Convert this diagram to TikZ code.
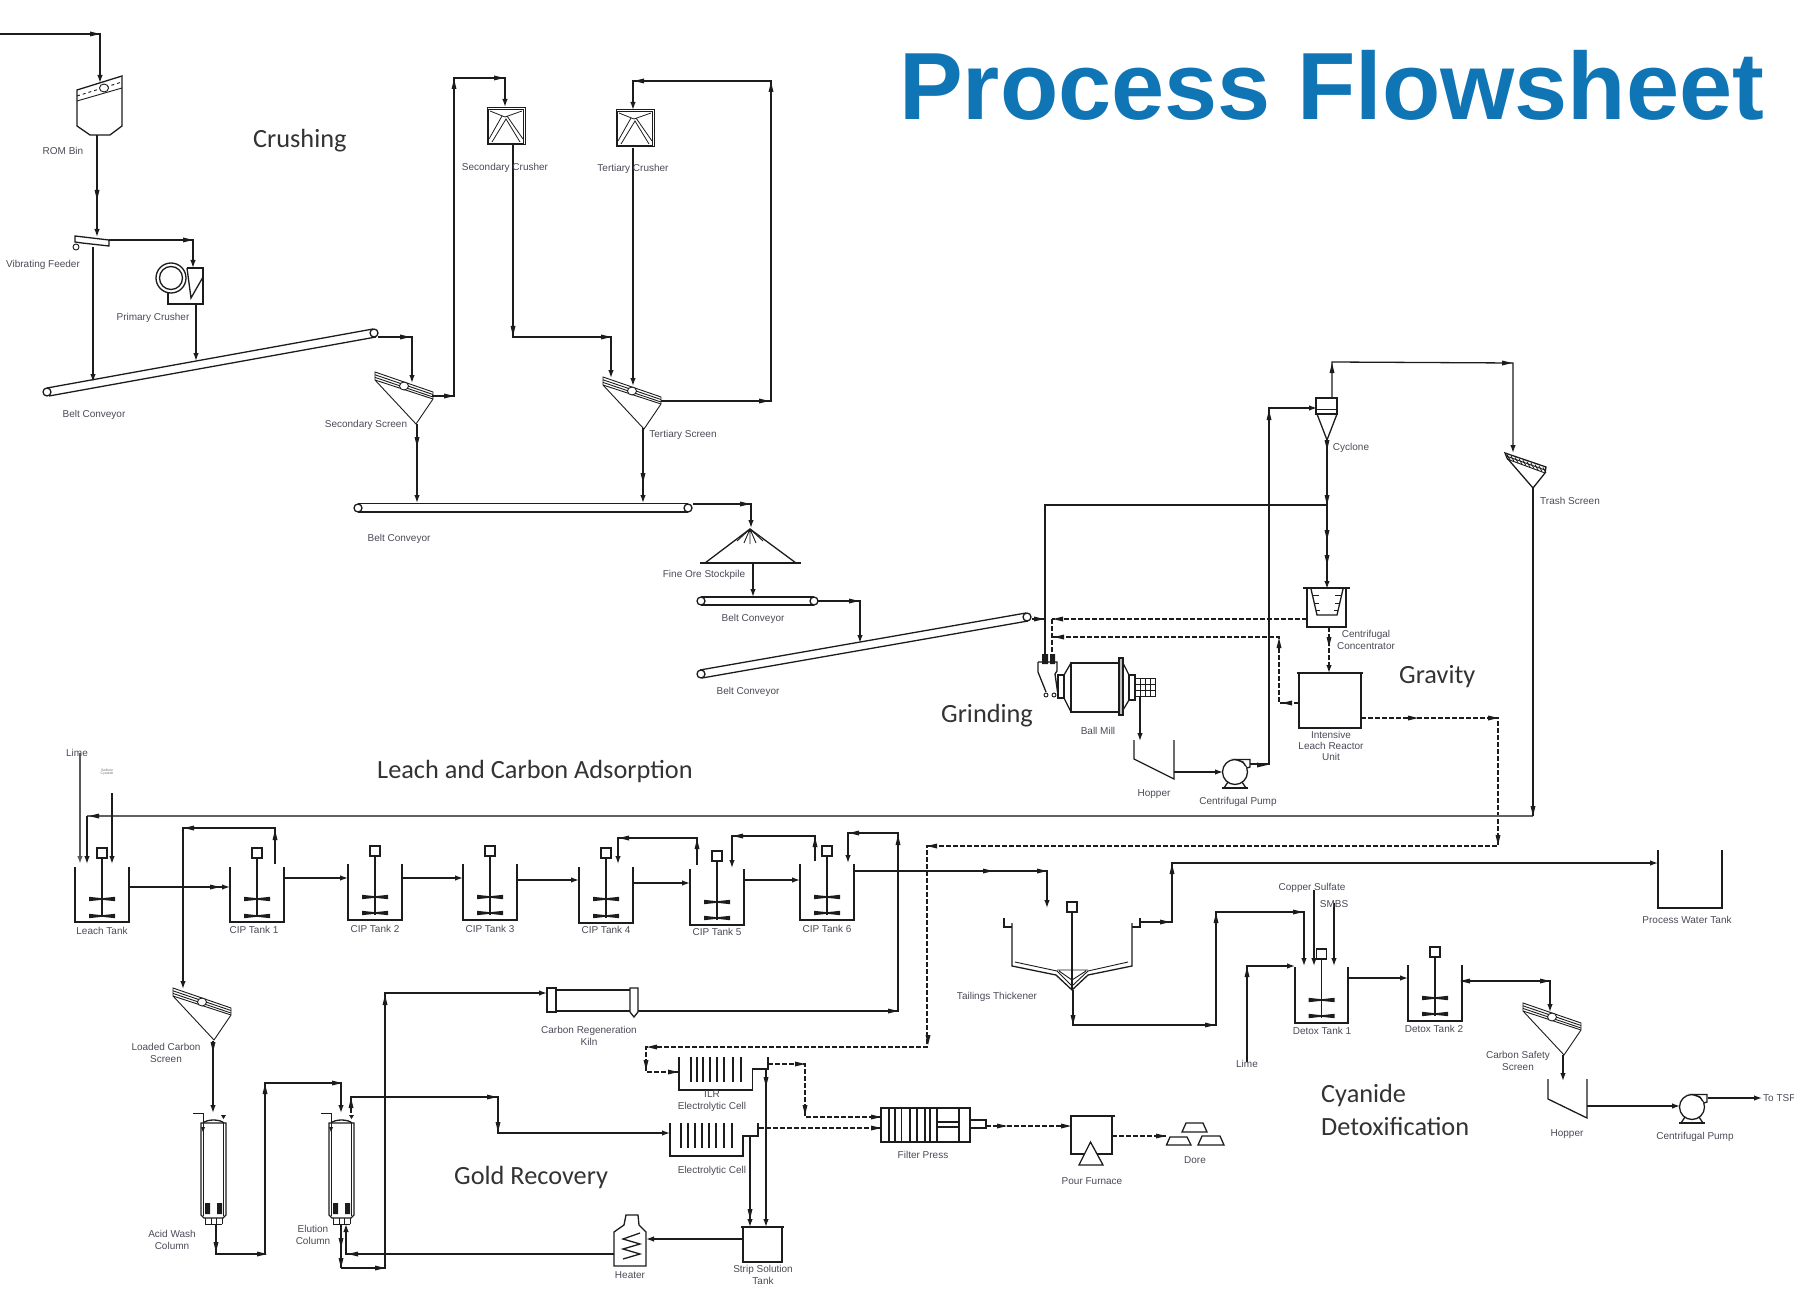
\documentclass[tikz,border=0pt]{standalone}
\usepackage{fontspec}
\setmainfont{Liberation Sans}
\newfontfamily\hdfont{Carlito}
\usetikzlibrary{arrows.meta}
\definecolor{ttl}{HTML}{0F75B5}
\definecolor{ink}{HTML}{1C1C1C}
\definecolor{lab}{HTML}{4A4A58}
\tikzset{
 pipe/.style={draw=ink,line width=1.3pt,line join=miter},
 wide/.style={draw=black!62,line width=2pt},
 arrowed/.style={-{Latex[length=8pt,width=5.5pt]}},
 dashpipe/.style={pipe,dash pattern=on 5pt off 2pt},
 eq/.style={draw=ink,line width=1.3pt,line join=miter},
 thin eq/.style={draw=ink,line width=.9pt},
 lbl/.style={font=\fontsize{10}{11.3}\selectfont,text=lab,align=center,inner sep=0pt,yshift=-1pt},
 sect/.style={font=\hdfont\fontsize{26.3}{31}\selectfont,text=black!80,align=left,inner sep=0pt,anchor=west,yshift=-2pt},
 motor/.style={draw=ink,line width=1.3pt,fill=white,minimum size=10pt,inner sep=0pt,rectangle}
}
\newcommand{\tipR}[2]{\fill[ink,shift={(#1,#2)}] (-5,-2.5) -- (5,0) -- (-5,2.5) -- cycle;}
\newcommand{\tipL}[2]{\fill[ink,shift={(#1,#2)}] (5,-2.5) -- (-5,0) -- (5,2.5) -- cycle;}
\newcommand{\tipD}[2]{\fill[ink,shift={(#1,#2)}] (-2.5,-5) -- (0,5) -- (2.5,-5) -- cycle;}
\newcommand{\tipU}[2]{\fill[ink,shift={(#1,#2)}] (-2.5,5) -- (0,-5) -- (2.5,5) -- cycle;}
\newcommand{\lab}[4]{\node[lbl] (#1) at (#2,#3) {#4};}
\newcommand{\sectn}[4]{\node[sect] (#1) at (#2,#3) {#4};}
\newcommand{\blade}[2]{\fill[ink,shift={(#1,#2)}] (-13,-2.2) -- (0,-.8) -- (13,-2.2) -- (13,2.2) -- (0,.8) -- (-13,2.2) -- cycle;}
% name, xL, xR, top, bottom, box y, blade 1, blade 2
\newcommand{\agtank}[8]{%
 \pgfmathsetmacro{\tcx}{(#2+#3)/2}%
 \draw[eq] (#2,#4) -- (#2,#5) -- (#3,#5) -- (#3,#4);
 \node[motor] (#1) at (\tcx,#6) {};
 \draw[eq] (#1.south) -- (\tcx,#5-5);
 \blade{\tcx}{#7}\blade{\tcx}{#8}}
% screen: top-left corner
\newcommand{\screen}[2]{%
 \begin{scope}[shift={(#1,#2)}]
  \draw[thin eq] (0,0) -- (58,20) -- (58,27) -- (41,52) -- (0,8) -- cycle;
  \draw[thin eq] (0,8) -- (58,27);
  \draw[thin eq] (0,2.8) -- (58,22.5) (0,5.4) -- (58,25);
  \draw[thin eq,fill=white] (29,14) ellipse (4.5 and 4);
 \end{scope}}
\newcommand{\crushbox}[2]{%
 \begin{scope}[shift={(#1,#2)}]
  \draw[draw=ink,line width=1pt] (0,0) rectangle (38,37);
  \draw[draw=ink,line width=.7pt] (1.6,1.6) rectangle (36.4,35.4);
  \draw[draw=ink,line width=.8pt] (3,3) -- (18,9) -- (35,3);
  \draw[draw=ink,line width=.8pt] (15,8) -- (2,31) (20,8) -- (36,31) (5,34) -- (19,11) -- (33,34);
 \end{scope}}
\newcommand{\pumpshape}[2]{%
 \begin{scope}[shift={(#1,#2)}]
  \draw[eq] (-7,10) -- (-11,16) (7,10) -- (11,16);
  \draw[eq] (-13,16) -- (13,16);
  \draw[eq,fill=white] (0,0) circle (12.5);
  \draw[eq,fill=white] (0,-12.5) -- (15,-12.5) -- (15,-5) -- (12,-4) -- (8,-10) -- cycle;
  \fill[white] (1,-11.5) -- (11,-5) -- (11,-2) -- (0,-8) -- cycle;
 \end{scope}}
\newcommand{\columnshape}[1]{%
 \begin{scope}[shift={(#1,1123)}]
  \draw[eq] (0,0) -- (0,92) -- (3,95) -- (22,95) -- (25,92) -- (25,0) -- cycle;
  \draw[thin eq] (2.5,0) -- (2.5,93) (22.5,0) -- (22.5,93);
  \draw[eq] (2,0) .. controls (6,-4) and (19,-4) .. (23,0);
  \fill[ink] (4,80) rectangle (9,91) (16,80) rectangle (21,91);
  \draw[thin eq] (4,95) -- (4,101) (21,95) -- (21,101) (4,101) -- (21,101) (10,95) -- (10,101) (15,95) -- (15,101);
  \draw[thin eq] (-8,-10) -- (2,-10) -- (2,6);
  \fill[ink] (0,4) -- (4,4) -- (2,9) -- cycle;
  \fill[ink] (20,-8) -- (25,-8) -- (22.5,-4) -- cycle;
 \end{scope}}
\begin{document}
\begin{tikzpicture}[x=1pt,y=-1pt]
\useasboundingbox (0,0) rectangle (1794,1289);

% ---------- titles ----------
\node[inner sep=0pt,anchor=base west,text=ttl,font=\fontsize{95.5}{100}\selectfont\bfseries] (title) at (899,120) {Process Flowsheet};
\sectn{hcrush}{253}{139}{Crushing}
\sectn{hgrind}{941}{714}{Grinding}
\sectn{hgrav}{1399}{675}{Gravity}
\sectn{hleach}{377}{769}{Leach and Carbon Adsorption}
\sectn{hgold}{454}{1175}{Gold Recovery}
\node[sect,text width=200pt,font=\hdfont\fontsize{26.3}{33.5}\selectfont,yshift=0pt] (hcyan) at (1321,1108) {Cyanide\\Detoxification};

% ---------- ports and bends ----------
\coordinate (feedIn) at (0,34); \coordinate (romIn) at (100,83); \coordinate (romOut) at (97,135);
\coordinate (vfIn) at (97,237); \coordinate (vfOver) at (109,240); \coordinate (vfUnder) at (93,247);
\coordinate (pcIn) at (193,268); \coordinate (pcOut) at (196,304);
\coordinate (bcA) at (93,382); \coordinate (bcB) at (196,361); \coordinate (bcHead) at (378,337);
\coordinate (ssIn) at (412,383); \coordinate (ssOver) at (432,396); \coordinate (ssB) at (454,78);
\coordinate (scIn) at (505,107); \coordinate (scOut) at (513,145); \coordinate (scB) at (513,337);
\coordinate (tsInA) at (611,378); \coordinate (tcOut) at (633,148); \coordinate (tsInB) at (633,386);
\coordinate (tsOver) at (661,401); \coordinate (tsB) at (771,81); \coordinate (tcIn) at (633,110);
\coordinate (ssU) at (417,424); \coordinate (tsU) at (643,428);
\coordinate (btA) at (417,503); \coordinate (btB) at (643,503); \coordinate (btHead) at (693,504);
\coordinate (spIn) at (751,528); \coordinate (spOut) at (753,563); \coordinate (b3A) at (753,597);
\coordinate (b3Head) at (818,601); \coordinate (b4A) at (860,643); \coordinate (b4Head) at (1032,619);
\coordinate (millA) at (1045,662); \coordinate (millJ) at (1045,619); \coordinate (millB) at (1052,662);
\coordinate (millC) at (1052,619); \coordinate (millD) at (1052,637);
\coordinate (millOut) at (1140,696); \coordinate (hopIn) at (1140,741); \coordinate (hopOut) at (1174,772);
\coordinate (pumpIn) at (1223,772); \coordinate (pumpOut) at (1250,764); \coordinate (pumpB) at (1269,408);
\coordinate (cyIn) at (1317,408); \coordinate (cyOver) at (1332,398); \coordinate (cyB) at (1332,362);
\coordinate (cyB2) at (1513,363); \coordinate (trIn) at (1513,453); \coordinate (cyU) at (1327,440);
\coordinate (cyT) at (1327,505); \coordinate (ccIn) at (1327,589); \coordinate (ccL) at (1307,619);
\coordinate (ccB) at (1329,627); \coordinate (ilrIn) at (1329,673); \coordinate (ilrL) at (1299,703);
\coordinate (ilrB) at (1279,637); \coordinate (ilrR) at (1361,718); \coordinate (ilrB2) at (1498,846);
\coordinate (dA) at (927,846); \coordinate (dB) at (927,1047); \coordinate (dC) at (646,1047);
\coordinate (dD) at (646,1072); \coordinate (ilrCIn) at (679,1072);
\coordinate (trU) at (1533,488); \coordinate (trJ) at (1533,816); \coordinate (pwB) at (87,816);
\coordinate (ltInW) at (87,864); \coordinate (limeA) at (80,753); \coordinate (limeB) at (80,864);
\coordinate (cyanA) at (112,793); \coordinate (cyanB) at (112,864);
\coordinate (ltOut) at (129,887); \coordinate (c1In) at (230,887); \coordinate (c1Out) at (284,878);
\coordinate (c2In) at (348,878); \coordinate (c2Out) at (402,878); \coordinate (c3In) at (463,878);
\coordinate (c3Out) at (517,880); \coordinate (c4In) at (579,880); \coordinate (c4Out) at (633,883);
\coordinate (c5In) at (690,883); \coordinate (c5Out) at (744,880); \coordinate (c6In) at (800,880);
\coordinate (c6Out) at (854,871); \coordinate (thB) at (1047,871); \coordinate (thIn) at (1047,908);
\coordinate (r1A) at (275,864); \coordinate (r1B) at (275,828); \coordinate (r1C) at (183,828);
\coordinate (lcIn) at (183,989); \coordinate (lcU) at (213,1041); \coordinate (awIn) at (213,1113);
\coordinate (r4A) at (697,865); \coordinate (r4B) at (697,838); \coordinate (r4C) at (618,838); \coordinate (r4D) at (618,864);
\coordinate (r5A) at (815,861); \coordinate (r5B) at (815,836); \coordinate (r5C) at (732,836); \coordinate (r5D) at (732,868);
\coordinate (r6A) at (898,1011); \coordinate (r6B) at (898,833); \coordinate (r6C) at (848,833); \coordinate (r6D) at (848,863);
\coordinate (kOut) at (638,1011); \coordinate (kIn) at (547,993); \coordinate (kB) at (385,993);
\coordinate (awOut) at (216,1224); \coordinate (awB) at (216,1254); \coordinate (awC) at (265,1254); \coordinate (awD) at (265,1083);
\coordinate (awE) at (341,1083); \coordinate (elIn) at (341,1113); \coordinate (elOut) at (341,1224); \coordinate (elB) at (341,1268);
\coordinate (elC) at (385,1268); \coordinate (elTop) at (351,1113); \coordinate (elD) at (351,1097); \coordinate (elE) at (498,1097);
\coordinate (elF) at (498,1133); \coordinate (ecIn) at (670,1133); \coordinate (elR) at (346,1224); \coordinate (heatOut) at (614,1254); \coordinate (heatJ) at (346,1254);
\coordinate (stOut) at (743,1239); \coordinate (heatIn) at (646,1239);
\coordinate (e1Down) at (766,1069); \coordinate (stInA) at (766,1227); \coordinate (e2Down) at (750,1136); \coordinate (stInB) at (750,1227);
\coordinate (e1Out) at (768,1064); \coordinate (e1B) at (805,1064); \coordinate (fpA0) at (805,1117); \coordinate (fpA) at (881,1117);
\coordinate (e2Out) at (759,1128); \coordinate (fpB) at (881,1128); \coordinate (fpOut) at (986,1126); \coordinate (pfIn) at (1071,1126);
\coordinate (pfOut) at (1112,1136); \coordinate (doreIn) at (1166,1136);
\coordinate (toA) at (1140,922); \coordinate (toB) at (1172,922); \coordinate (toC) at (1172,863); \coordinate (pwIn) at (1658,863);
\coordinate (tuA) at (1073,990); \coordinate (tuB) at (1073,1025); \coordinate (tuC) at (1216,1025); \coordinate (tuD) at (1216,912);
\coordinate (d1InA) at (1304,966); \coordinate (csA) at (1314,890); \coordinate (csB) at (1314,966); \coordinate (smA) at (1334,903); \coordinate (smB) at (1334,966);
\coordinate (limA) at (1247,1062); \coordinate (limB) at (1247,966); \coordinate (limC) at (1295,966);
\coordinate (d1Out) at (1348,978); \coordinate (d2In) at (1408,978); \coordinate (d2Out) at (1462,981); \coordinate (csIn) at (1550,1012);
\coordinate (csU) at (1563,1055); \coordinate (hop2In) at (1563,1081); \coordinate (hop2Out) at (1587,1106); \coordinate (pump2In) at (1680,1106);
\coordinate (pump2Out) at (1708,1098); \coordinate (tsfEnd) at (1762,1098);

% ---------- equipment: crushing ----------
\draw[eq] (77,90) -- (122,76) -- (122,126) -- (110,135) -- (90,135) -- (77,126) -- cycle;
\draw[thin eq] (77,101) -- (122,88);
\draw[thin eq,dashed] (77,96) -- (122,82);
\draw[thin eq,fill=white] (104,88) ellipse (4.5 and 4);
\draw[eq,fill=white] (75,236) -- (109,240) -- (109,246) -- (82,243) -- (75,242) -- cycle;
\draw[thin eq,fill=white] (76,247) circle (3);
\draw[eq] (187,268) -- (203,268) -- (203,304) -- (168,304) -- (168,290);
\draw[eq] (187,268) -- (191,298) -- (203,277);
\draw[eq,fill=white] (171,278) circle (15);
\draw[eq] (171,278) circle (11.5);
% belts
\draw[eq] (47,388) -- (373,329) (49,396) -- (376,337);
\draw[eq,fill=white] (47,392) circle (4);
\draw[eq,fill=white] (374,333) circle (4);
\draw[eq] (358,503.5) -- (688,503.5) (358,512) -- (688,512);
\draw[eq,fill=white] (358,508) circle (4);
\draw[eq,fill=white] (688,508) circle (4);
\draw[eq] (701,597) -- (814,597) (701,605) -- (814,605);
\draw[eq,fill=white] (701,601) circle (4);
\draw[eq,fill=white] (814,601) circle (4);
\draw[eq] (700,670) -- (1026,613) (702,678) -- (1028,621);
\draw[eq,fill=white] (701,674) circle (4);
\draw[eq,fill=white] (1027,617) circle (4);
\crushbox{487}{108}
\crushbox{616}{110}
\screen{375}{372}
\screen{603}{377}
% stockpile
\draw[eq] (700,563) -- (801,563);
\draw[eq] (705,563) -- (750,529) -- (796,563);
\draw[thin eq] (750,529) -- (737,541) (750,529) -- (744,543) (750,529) -- (750,544) (750,529) -- (756,543) (750,529) -- (763,541);
% ---------- ball mill ----------
\draw[eq] (1071,663) rectangle (1119,712);
\draw[eq] (1071,663) -- (1064,675) -- (1064,698) -- (1071,712);
\draw[eq] (1058,675) rectangle (1064,698);
\draw[eq,fill=black!25] (1119,658) rectangle (1123,715);
\draw[eq] (1123,663) -- (1129,675) -- (1129,700) -- (1123,710);
\draw[eq] (1129,675) rectangle (1135,700);
\draw[thin eq] (1135,678) rectangle (1155,696);
\foreach \g in {1140,1145,1150} {\draw[thin eq] (\g,678) -- (\g,696);}
\foreach \g in {684,690} {\draw[thin eq] (1135,\g) -- (1155,\g);}
\draw[eq] (1038,662) -- (1057,662) -- (1057,671) -- (1055,674) -- (1058,695) (1038,662) -- (1038,672) -- (1046,692);
\draw[thin eq,fill=white] (1046,695) circle (2) (1054,695) circle (2);
\fill[ink] (1042,654) rectangle (1048,664) (1050,654) rectangle (1055,664);
% hopper / pump
\draw[eq] (1134,740) -- (1134,759) -- (1174,779) -- (1174,740);
\pumpshape{1235}{772}
% cyclone
\draw[eq] (1316,398) rectangle (1337,414);
\draw[thin eq] (1316,409) -- (1337,409);
\draw[eq] (1317,414) -- (1327,440) -- (1337,414);
% concentrator
\draw[eq] (1307,588) rectangle (1346,627);
\draw[eq] (1303,588) -- (1350,588);
\draw[eq] (1311,589) -- (1317,615) -- (1337,615) -- (1343,589);
\draw[thin eq] (1312,595) -- (1319,595) (1314,603) -- (1319,603) (1316,610) -- (1320,610) (1342,595) -- (1335,595) (1340,603) -- (1335,603) (1338,610) -- (1334,610);
% ILR
\draw[eq] (1299,673) rectangle (1361,728);
\draw[eq] (1297,673) -- (1363,673);
% trash screen
\draw[eq] (1505,453) -- (1546,467) -- (1545,473) -- (1533,488) -- (1507,458) -- cycle;
\draw[thin eq] (1507,459) -- (1545,473) (1506,456) -- (1545,470);
\foreach \h in {0,4,...,36} {\draw[draw=ink,line width=.8pt] (1507+\h,454.5+.36*\h) -- (1510+\h,460+.36*\h);}
% ---------- tanks ----------
\agtank{leach}{75}{129}{867}{922}{853}{899}{916}
\agtank{cipa}{230}{284}{867}{922}{853}{899}{916}
\agtank{cipb}{348}{402}{864}{920}{851}{897}{913}
\agtank{cipc}{463}{517}{864}{920}{851}{897}{913}
\agtank{cipd}{579}{633}{867}{923}{853}{899}{916}
\agtank{cipe}{690}{744}{869}{925}{856}{902}{918}
\agtank{cipf}{800}{854}{864}{920}{851}{897}{913}
\agtank{detoxa}{1295}{1348}{967}{1023}{954}{1000}{1016}
\agtank{detoxb}{1408}{1462}{965}{1021}{952}{998}{1014}
% water tank
\draw[eq] (1658,850) -- (1658,908) -- (1722,908) -- (1722,850);
% thickener
\draw[eq] (1004,918) -- (1004,927) -- (1012,927);
\draw[eq] (1012,923) -- (1012,966) -- (1056,975) -- (1072,990) -- (1088,975) -- (1132,966) -- (1132,923);
\draw[eq] (1140,918) -- (1140,927) -- (1132,927);
\draw[thin eq] (1015,962) -- (1057,971) -- (1072,986) -- (1088,971) -- (1128,962);
\draw[thin eq] (1057,970) -- (1088,970) (1059,971) -- (1072,980) -- (1086,971);
\node[motor] (thick) at (1072,907) {};
\draw[eq] (thick.south) -- (1072,989);
% ---------- gold area ----------
\screen{173}{988}
\screen{1523}{1003}
\columnshape{201}
\columnshape{329}
\draw[eq,fill=white] (547,988) rectangle (556,1012);
\draw[eq] (556,990) -- (630,990) (556,1011) -- (630,1011);
\draw[eq,fill=white] (630,988) -- (638,988) -- (638,1012) -- (634,1017) -- (630,1012) -- cycle;
% electrolytic cells
\draw[eq] (679,1057) -- (679,1090) -- (752.5,1090) -- (752.5,1069) -- (768,1069) -- (768,1057);
\foreach \px in {691,697,703,710,717,724,733,741} {\draw[eq] (\px,1057) -- (\px,1082);}
\draw[eq] (670,1123) -- (670,1156) -- (743,1156) -- (743,1136) -- (758,1136) -- (758,1123);
\foreach \px in {681,688,695,702,709,716,724,732} {\draw[eq] (\px,1123) -- (\px,1148);}
% filter press
\draw[eq] (881,1108) rectangle (970,1142);
\foreach \px in {889,895,901.5,910,917,925,930,937,959} {\draw[eq] (\px,1108) -- (\px,1142);}
\draw[eq] (937,1122) -- (959,1122) (937,1127) -- (959,1127);
\draw[eq] (970,1120) rectangle (986,1128);
% furnace
\draw[eq] (1115,1116) -- (1071,1116) -- (1071,1154) -- (1112,1154) -- (1112,1116);
\draw[eq,fill=white] (1090.5,1142) -- (1103,1165) -- (1079,1165) -- cycle;
% dore
\draw[eq] (1182,1132) -- (1186,1123) -- (1203,1123) -- (1207,1132) -- cycle;
\draw[eq] (1166.5,1145) -- (1170,1137) -- (1187,1137) -- (1191,1145) -- cycle;
\draw[eq] (1198,1145) -- (1202,1136) -- (1220,1136) -- (1224,1145) -- cycle;
% heater
\draw[eq] (626,1215) -- (638,1215) -- (639,1225) -- (646,1232) -- (646,1266) -- (614,1266) -- (614,1232) -- (624,1225) -- cycle;
\draw[eq] (640,1233) -- (623,1239) -- (640,1244) -- (623,1249) -- (640,1254) -- (623,1259);
% strip tank
\draw[eq] (743,1227) rectangle (782,1262);
\draw[eq] (741,1227) -- (784,1227);
% second hopper / pump
\draw[eq] (1548,1079) -- (1548,1099) -- (1587,1118) -- (1587,1079);
\pumpshape{1692}{1107}

% ---------- connectors ----------
\draw[pipe,arrowed] (feedIn) -| (romIn); \tipR{95}{34}
\draw[pipe,arrowed] (romOut) -- (vfIn); \tipD{97}{195}
\draw[pipe,arrowed] (vfOver) -| (pcIn); \tipR{188}{240}
\draw[pipe,arrowed] (vfUnder) -- (bcA);
\draw[pipe,arrowed] (pcOut) -- (bcB);
\draw[pipe,arrowed] (bcHead) -| (ssIn); \tipR{405}{337}
\draw[pipe,arrowed] (ssOver) -| (ssB) -| (scIn); \tipR{449}{396}\tipU{454}{84}\tipR{499}{78}
\draw[pipe,arrowed] (scOut) -- (scB) -| (tsInA); \tipD{513}{331}\tipR{606}{337}
\draw[pipe,arrowed] (tcOut) -- (tsInB);
\draw[pipe,arrowed] (tsOver) -| (tsB) -| (tcIn); \tipR{764}{401}\tipU{771}{87}\tipL{639}{81}
\draw[pipe,arrowed] (ssU) -- (btA); \tipD{417}{442}
\draw[pipe,arrowed] (tsU) -- (btB); \tipD{643}{478}
\draw[pipe,arrowed] (btHead) -| (spIn); \tipR{745}{504}
\draw[pipe,arrowed] (spOut) -- (b3A);
\draw[pipe,arrowed] (b3Head) -| (b4A); \tipR{854}{601}
\draw[pipe] (b4Head) -- (millJ); \tipR{1039}{619}
\draw[pipe,arrowed] (cyT) -| (millA);
\draw[pipe,line width=1.8pt] (millJ) -- (millA);
\draw[dashpipe] (ccL) -- (millC); \tipL{1058}{619}
\draw[dashpipe] (millC) -- (millB);
\draw[dashpipe] (ilrL) -| (ilrB) -- (millD); \tipL{1287}{703}\tipU{1279}{643}\tipL{1059}{637}
\draw[pipe,arrowed] (millOut) -- (hopIn);
\draw[pipe,arrowed] (hopOut) -- (pumpIn);
\draw[pipe,arrowed] (pumpOut) -| (pumpB) -- (cyIn); \tipR{1262}{765}\tipU{1269}{415}
\draw[pipe,arrowed] (cyOver) -- (cyB) -- (cyB2) -- (trIn); \tipU{1332}{368}\tipR{1507}{363}
\draw[pipe,line width=1.8pt,arrowed] (cyU) -- (ccIn); \tipD{1327}{445}\tipD{1327}{500}\tipD{1327}{535}\tipD{1327}{560}
\draw[dashpipe,arrowed] (ccB) -- (ilrIn); \tipD{1329}{642}
\draw[dashpipe] (ilrR) -| (ilrB2) -- (dA) -- (dB) -- (dC) -- (dD) -- (ilrCIn);
\tipR{1413}{718}\tipR{1493}{718}\tipD{1498}{840}\tipL{932}{846}\tipD{928}{1040}\tipL{652}{1047}\tipD{646}{1065}\tipR{673}{1072}
\draw[wide] (trJ) -- (pwB);
\draw[pipe,arrowed] (pwB) -- (ltInW); \tipL{94}{816}
\draw[pipe] (trU) -- (trJ); \tipD{1533}{811}
\draw[wide,arrowed,draw=black!65,line width=1.6pt] (limeA) -- (limeB);
\draw[pipe,arrowed] (cyanA) -- (cyanB);
\draw[pipe,arrowed] (ltOut) -- (c1In); \tipR{215}{887}
\draw[pipe,arrowed] (c1Out) -- (c2In);
\draw[pipe,arrowed] (c2Out) -- (c3In);
\draw[pipe,arrowed] (c3Out) -- (c4In);
\draw[pipe,arrowed] (c4Out) -- (c5In);
\draw[pipe,arrowed] (c5Out) -- (c6In);
\draw[pipe,arrowed] (c6Out) -- (thB) -- (thIn); \tipR{988}{871}\tipR{1042}{871}
\draw[pipe,arrowed] (r1A) -- (r1B) -- (r1C) -- (lcIn); \tipU{275}{835}\tipL{189}{828}
\draw[pipe,arrowed] (lcU) -- (awIn); \tipD{213}{1047}
\draw[pipe,arrowed] (r4A) -- (r4B) -- (r4C) -- (r4D); \tipU{697}{844}\tipL{624}{838}
\draw[pipe,arrowed] (r5A) -- (r5B) -- (r5C) -- (r5D); \tipU{815}{842}\tipL{738}{836}
\draw[pipe,arrowed] (kOut) -- (r6A) -- (r6B) -- (r6C) -- (r6D); \tipR{893}{1011}\tipU{898}{840}\tipL{854}{833}
\draw[pipe,arrowed] (elB) -- (elC) -- (kB) -- (kIn); \tipR{380}{1268}\tipU{385}{1000}
\draw[pipe,arrowed] (awOut) -- (awB) -- (awC) -- (awD) -- (awE) -- (elIn); \tipD{216}{1247}\tipR{262}{1254}\tipU{265}{1089}\tipR{337}{1083}
\draw[pipe] (elOut) -- (elB); \tipD{341}{1243}\tipD{341}{1263}
\draw[pipe,arrowed] (elTop) -- (elD) -- (elE) -- (elF) -- (ecIn); \tipU{351}{1103}\tipR{492}{1097}\tipD{498}{1127}
\draw[pipe,arrowed] (heatOut) -- (heatJ) -- (elR); \tipL{353}{1254}
\draw[pipe,arrowed] (stOut) -- (heatIn);
\draw[pipe,arrowed] (e1Down) -- (stInA); \tipD{766}{1082}
\draw[pipe,arrowed] (e2Down) -- (stInB); \tipD{750}{1214}
\draw[dashpipe] (e1Out) -- (e1B) -- (fpA0) -- (fpA); \tipR{800}{1064}\tipD{805}{1110}\tipR{876}{1117}
\draw[dashpipe] (e2Out) -- (fpB); \tipR{876}{1128}
\draw[dashpipe] (fpOut) -- (pfIn); \tipR{1002}{1126}\tipR{1066}{1126}
\draw[dashpipe] (pfOut) -- (doreIn); \tipR{1161}{1136}
\draw[pipe,arrowed] (toA) -- (toB) -- (toC) -- (pwIn); \tipR{1165}{922}\tipU{1172}{869}
\draw[pipe,arrowed] (tuA) -- (tuB) -- (tuC) -- (tuD) -| (d1InA); \tipD{1073}{1020}\tipR{1210}{1025}\tipU{1216}{918}\tipR{1298}{912}
\draw[pipe,arrowed] (csA) -- (csB);
\draw[pipe,arrowed] (smA) -- (smB);
\draw[pipe,arrowed] (limA) -- (limB) -- (limC); \tipU{1247}{972}
\draw[pipe,arrowed] (d1Out) -- (d2In);
\draw[pipe,arrowed] (d2Out) -| (csIn); \tipL{1465}{981}\tipR{1545}{981}
\draw[pipe,arrowed] (csU) -- (hop2In);
\draw[pipe,arrowed] (hop2Out) -- (pump2In);
\draw[pipe,arrowed] (pump2Out) -- (tsfEnd);

% ---------- labels ----------
\lab{lrom}{63}{150}{ROM Bin}
\lab{lvf}{43}{264}{Vibrating Feeder}
\lab{lpc}{153}{317}{Primary Crusher}
\lab{lbc1}{94}{414}{Belt Conveyor}
\lab{lss}{366}{424}{Secondary Screen}
\lab{lsc}{505}{167}{Secondary Crusher}
\lab{ltc}{633}{168}{Tertiary Crusher}
\lab{lts}{683}{434}{Tertiary Screen}
\lab{lbc2}{399}{538}{Belt Conveyor}
\lab{lfos}{704}{574}{Fine Ore Stockpile}
\lab{lbc3}{753}{618}{Belt Conveyor}
\lab{lbc4}{748}{691}{Belt Conveyor}
\lab{lbm}{1098}{730}{Ball Mill}
\lab{lhop}{1154}{793}{Hopper}
\lab{lcp}{1238}{801}{Centrifugal Pump}
\lab{lcy}{1351}{447}{Cyclone}
\lab{ltr}{1570}{500}{Trash Screen}
\lab{lcc}{1366}{639}{Centrifugal\\Concentrator}
\lab{lilr}{1331}{745}{Intensive\\Leach Reactor\\Unit}
\lab{llime}{77}{752}{Lime}
\node[font=\fontsize{3.5}{3.8}\selectfont,text=black!55,align=center,inner sep=0pt] (lcn) at (107,772) {Sodium\\Cyanide};
\lab{llt}{102}{930}{Leach Tank}
\lab{lc1}{254}{929}{CIP Tank 1}
\lab{lc2}{375}{928}{CIP Tank 2}
\lab{lc3}{490}{928}{CIP Tank 3}
\lab{lc4}{606}{929}{CIP Tank 4}
\lab{lc5}{717}{931}{CIP Tank 5}
\lab{lc6}{827}{928}{CIP Tank 6}
\lab{lkiln}{589}{1035}{Carbon Regeneration\\Kiln}
\lab{llcs}{166}{1052}{Loaded Carbon\\Screen}
\lab{law}{172}{1239}{Acid Wash\\Column}
\lab{lel}{313}{1234}{Elution\\Column}
\lab{lheat}{630}{1274}{Heater}
\lab{lst}{763}{1274}{Strip Solution\\Tank}
\lab{lilrc}{712}{1100}{ILR\\Electrolytic Cell}
\lab{lec}{712}{1170}{Electrolytic Cell}
\lab{lfp}{923}{1154}{Filter Press}
\lab{lpf}{1092}{1180}{Pour Furnace}
\lab{ldore}{1195}{1159}{Dore}
\lab{ltt}{997}{996}{Tailings Thickener}
\lab{lcs}{1312}{887}{Copper Sulfate}
\lab{lsm}{1334}{903}{SMBS}
\lab{llime2}{1247}{1063}{Lime}
\lab{ld1}{1322}{1030}{Detox Tank 1}
\lab{ld2}{1434}{1028}{Detox Tank 2}
\lab{lpw}{1687}{919}{Process Water Tank}
\lab{lcss}{1518}{1060}{Carbon Safety\\Screen}
\lab{lhop2}{1567}{1133}{Hopper}
\lab{lcp2}{1695}{1136}{Centrifugal Pump}
\node[lbl,anchor=west] (ltsf) at (1763,1097) {To TSF};
\end{tikzpicture}
\end{document}
